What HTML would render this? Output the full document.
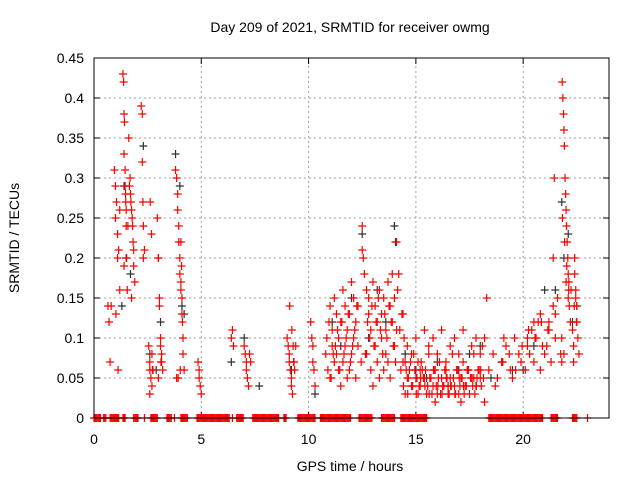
<!DOCTYPE html>
<html><head><meta charset="utf-8"><style>
body{margin:0;background:#fff}
svg{display:block;font-family:"Liberation Sans",sans-serif}
</style></head><body>
<svg id="chart" width="640" height="480" viewBox="0 0 640 480">
<rect width="640" height="480" fill="#fff"/>
<text x="350" y="32" font-size="14" text-anchor="middle">Day 209 of 2021, SRMTID for receiver owmg</text>
<g id="grid"></g><g id="ticks"></g>
<g id="marks"></g>
<rect x="94" y="58" width="515" height="360" fill="none" stroke="#000" stroke-width="1"/>
<text x="350" y="471" font-size="14" text-anchor="middle">GPS time / hours</text>
<text transform="translate(19,238) rotate(-90)" font-size="14" text-anchor="middle">SRMTID / TECUs</text>
</svg>
<script>
const xTicks=[0,5,10,15,20];
const yTicks=[0,0.05,0.1,0.15,0.2,0.25,0.3,0.35,0.4,0.45];
const yLabels=["0","0.05","0.1","0.15","0.2","0.25","0.3","0.35","0.4","0.45"];
const redT=[0.65,0.7,0.75,0.8,0.95,1.0,1.0,1.05,1.1,1.1,1.15,1.2,1.2,1.35,1.38,1.4,1.4,1.42,1.45,1.45,1.48,1.5,1.5,1.52,1.55,1.4,1.65,1.7,1.72,1.75,1.78,1.8,1.82,1.85,1.85,1.9,1.75,2.2,2.25,2.25,2.28,2.3,2.3,2.35,2.55,2.6,2.6,2.65,2.7,2.7,2.75,2.6,2.95,3.0,3.0,3.05,3.05,3.1,3.1,3.15,3.15,3.2,3.0,3.8,3.85,3.9,3.9,3.95,3.95,4.0,4.0,4.05,4.05,4.1,4.1,4.12,4.15,4.15,4.2,3.85,4.05,4.85,4.9,4.9,4.95,5.0,6.4,6.45,6.5,7.0,7.05,7.1,7.1,7.15,7.2,7.25,7.3,9.0,9.05,9.1,9.1,9.15,9.2,9.2,9.25,9.3,9.35,9.4,10.1,10.15,10.2,10.2,10.25,10.3,10.8,10.85,10.9,10.95,11.0,11.0,11.1,11.1,11.2,11.2,11.3,11.3,11.4,11.4,11.5,11.5,11.6,11.6,11.7,11.7,11.8,11.8,11.9,11.9,12.0,12.0,12.1,12.1,12.2,12.2,12.3,12.3,12.45,12.5,12.5,12.55,12.6,12.7,12.7,12.8,12.8,12.9,12.9,13.0,13.0,13.1,13.1,13.2,13.2,13.3,13.3,13.4,13.4,13.5,13.5,13.6,13.6,13.7,13.7,13.8,13.8,13.9,13.9,14.0,14.0,14.05,14.1,14.1,14.2,14.3,14.4,14.5,14.6,14.7,14.8,14.9,15.0,15.1,15.2,15.3,15.4,15.5,15.6,15.7,15.8,15.9,16.0,16.1,16.2,16.3,16.4,16.5,16.6,16.7,16.8,16.9,17.0,17.1,17.2,17.3,17.4,17.5,17.6,17.7,17.8,17.9,18.0,18.1,18.2,14.4,14.6,14.8,15.0,15.2,15.4,15.6,15.8,16.0,16.2,16.4,16.6,16.8,17.0,17.2,17.4,17.6,17.8,18.0,18.2,14.5,15.1,15.9,16.5,17.1,17.7,18.3,18.4,18.6,18.8,19.0,19.2,19.4,19.6,19.8,18.7,19.1,19.5,19.9,20.1,20.2,20.3,20.4,20.5,20.6,20.7,20.8,20.9,21.0,20.2,20.5,20.8,21.1,21.2,21.3,21.4,21.5,21.6,21.2,21.4,21.5,21.75,21.8,21.82,21.85,21.88,21.9,21.92,21.95,21.98,22.0,22.02,22.05,22.08,22.1,22.12,22.15,22.2,21.8,21.9,22.0,22.1,22.3,22.35,22.4,22.4,22.45,22.5,22.5,22.55,22.6,22.35,22.45,
1.02,1.12,1.47,1.58,1.62,1.68,2.62,2.68,2.72,3.12,3.92,4.02,4.08,9.12,9.22,9.28,9.32,11.05,11.15,11.25,11.35,11.45,11.55,11.65,11.75,11.85,11.95,12.05,12.15,12.25,12.65,12.75,12.85,12.95,13.05,13.15,13.25,13.35,13.45,13.55,13.65,13.75,13.85,13.95,14.15,14.25,14.35,14.45,14.55,14.65,14.75,14.85,14.95,15.05,15.15,15.25,15.35,15.45,15.55,15.65,15.75,15.85,15.95,16.05,16.15,16.25,16.35,16.45,16.55,16.65,16.75,16.85,16.95,17.05,17.15,17.25,17.35,17.45,17.55,17.65,17.75,17.85,17.95,18.05,18.15,14.42,14.62,14.82,15.02,15.22,15.42,15.62,15.82,16.02,16.22,16.42,16.62,16.82,17.02,17.22,17.42,17.62,17.82,18.02,19.05,19.35,19.65,19.95,20.25,20.55,20.85,21.15,21.45,21.83,21.93,22.03,22.13,22.23,22.38,22.48,22.58];
const redV=[0.14,0.12,0.07,0.14,0.31,0.29,0.25,0.27,0.23,0.2,0.21,0.26,0.16,0.43,0.42,0.38,0.33,0.37,0.31,0.29,0.27,0.26,0.24,0.2,0.16,0.19,0.29,0.28,0.27,0.26,0.25,0.24,0.22,0.21,0.19,0.17,0.15,0.39,0.38,0.32,0.27,0.24,0.2,0.21,0.09,0.07,0.06,0.05,0.04,0.08,0.06,0.03,0.25,0.2,0.2,0.15,0.14,0.1,0.09,0.08,0.07,0.06,0.05,0.31,0.3,0.28,0.26,0.24,0.22,0.2,0.18,0.17,0.16,0.15,0.13,0.12,0.1,0.08,0.06,0.05,0.22,0.07,0.06,0.05,0.04,0.03,0.1,0.11,0.09,0.09,0.08,0.07,0.06,0.05,0.04,0.08,0.07,0.1,0.09,0.08,0.07,0.06,0.05,0.04,0.03,0.07,0.06,0.09,0.12,0.1,0.09,0.07,0.06,0.04,0.08,0.1,0.06,0.12,0.14,0.05,0.09,0.11,0.07,0.15,0.08,0.13,0.06,0.1,0.04,0.12,0.16,0.07,0.09,0.14,0.05,0.11,0.13,0.06,0.17,0.08,0.15,0.1,0.12,0.05,0.09,0.14,0.07,0.24,0.21,0.2,0.18,0.16,0.08,0.13,0.15,0.06,0.11,0.17,0.04,0.09,0.14,0.07,0.12,0.05,0.16,0.1,0.13,0.06,0.15,0.08,0.11,0.17,0.07,0.14,0.05,0.12,0.18,0.09,0.15,0.07,0.22,0.11,0.18,0.06,0.13,0.07,0.05,0.06,0.04,0.08,0.05,0.07,0.04,0.06,0.05,0.03,0.08,0.05,0.04,0.06,0.03,0.07,0.05,0.04,0.06,0.03,0.05,0.08,0.04,0.06,0.03,0.05,0.07,0.04,0.06,0.03,0.05,0.08,0.04,0.06,0.05,0.09,0.1,0.07,0.09,0.08,0.1,0.06,0.11,0.09,0.1,0.08,0.11,0.07,0.09,0.1,0.08,0.11,0.06,0.09,0.1,0.08,0.02,0.03,0.03,0.02,0.04,0.02,0.05,0.15,0.06,0.08,0.05,0.07,0.09,0.06,0.1,0.08,0.04,0.1,0.05,0.07,0.06,0.09,0.08,0.11,0.07,0.1,0.12,0.06,0.09,0.08,0.1,0.12,0.13,0.09,0.11,0.07,0.14,0.1,0.15,0.12,0.2,0.13,0.08,0.07,0.42,0.4,0.38,0.36,0.34,0.3,0.28,0.26,0.24,0.22,0.2,0.18,0.16,0.14,0.12,0.1,0.08,0.17,0.15,0.11,0.09,0.2,0.18,0.16,0.14,0.12,0.1,0.08,0.07,0.15,0.13,0.06,
0.28,0.24,0.35,0.3,0.27,0.23,0.06,0.07,0.05,0.06,0.19,0.14,0.11,0.09,0.07,0.05,0.08,0.09,0.11,0.06,0.12,0.08,0.1,0.13,0.07,0.09,0.11,0.14,0.08,0.12,0.1,0.14,0.09,0.12,0.15,0.11,0.08,0.13,0.1,0.14,0.12,0.09,0.16,0.11,0.13,0.1,0.06,0.05,0.07,0.04,0.06,0.05,0.04,0.07,0.05,0.06,0.04,0.05,0.03,0.06,0.04,0.05,0.03,0.04,0.06,0.05,0.03,0.04,0.05,0.03,0.06,0.04,0.05,0.03,0.04,0.06,0.05,0.04,0.03,0.05,0.06,0.04,0.05,0.04,0.03,0.04,0.03,0.05,0.04,0.03,0.06,0.04,0.03,0.05,0.04,0.03,0.05,0.04,0.06,0.05,0.04,0.06,0.07,0.08,0.06,0.09,0.11,0.1,0.12,0.11,0.3,0.25,0.22,0.19,0.17,0.16,0.14,0.12];
const blackT=[1.3,1.4,1.5,1.7,2.3,2.6,2.9,3.1,3.8,4.0,4.1,4.2,6.4,7.0,7.7,9.2,10.3,11.1,11.5,12.0,12.5,12.8,13.2,13.6,14.0,14.05,14.5,15.0,15.5,16.0,16.5,17.0,17.5,18.0,18.5,19.0,19.5,20.0,20.5,21.0,21.5,21.8,21.9,22.1,22.3,22.5];
const blackV=[0.14,0.29,0.2,0.18,0.34,0.08,0.06,0.12,0.33,0.29,0.14,0.13,0.07,0.1,0.04,0.06,0.03,0.12,0.09,0.15,0.23,0.1,0.16,0.12,0.24,0.22,0.08,0.06,0.05,0.07,0.04,0.06,0.08,0.09,0.05,0.07,0.06,0.06,0.09,0.16,0.16,0.27,0.2,0.23,0.12,0.14];
const zeroT=[0,0.05,0.1,0.15,0.2,0.25,0.3,0.45,0.5,0.55,0.75,0.8,0.85,0.9,0.95,1.0,1.05,1.1,1.15,1.35,1.4,1.45,1.85,1.9,1.95,2.0,2.05,2.35,2.65,2.7,2.75,2.8,2.85,2.9,2.95,3.4,3.45,3.5,3.55,3.6,3.75,4.05,4.1,4.15,4.2,4.25,4.3,4.35,4.8,4.85,4.9,4.95,5.0,5.05,5.1,5.15,5.2,5.25,5.3,5.35,5.4,5.45,5.5,5.55,5.6,5.65,5.7,5.75,5.8,5.85,5.9,5.95,6.0,6.05,6.1,6.15,6.2,6.25,6.3,6.45,6.65,6.7,6.75,6.8,6.85,6.9,6.95,7.4,7.45,7.5,7.55,7.6,7.65,7.7,7.75,7.8,7.85,7.9,7.95,8.0,8.05,8.1,8.15,8.2,8.25,8.3,8.35,8.4,8.45,8.5,8.55,8.6,8.85,8.9,8.95,9.5,9.55,9.6,9.65,9.7,9.75,9.8,9.85,9.9,9.95,10.0,10.05,10.1,10.15,10.2,10.25,10.3,10.55,10.6,10.65,10.7,10.75,10.8,10.85,10.9,10.95,11.0,11.05,11.1,11.15,11.2,11.25,11.3,11.35,11.4,11.45,11.5,11.55,11.6,11.65,11.7,11.75,11.8,11.85,11.9,11.95,12.35,12.4,12.45,12.5,12.55,12.6,12.65,12.7,12.75,12.8,12.85,12.9,12.95,13.4,13.45,13.5,13.55,13.6,13.65,13.7,13.75,13.8,13.85,13.9,13.95,14.0,14.3,14.35,14.4,14.45,14.5,14.55,14.6,14.65,14.7,14.75,14.8,14.85,14.9,14.95,15.0,15.05,15.1,15.15,15.2,15.25,15.3,15.35,15.4,15.45,15.5,18.4,18.45,18.5,18.55,18.6,18.65,18.7,18.75,18.8,18.85,18.9,18.95,19.0,19.05,19.1,19.15,19.2,19.25,19.3,19.35,19.4,19.45,19.5,19.55,19.6,19.65,19.7,19.75,19.8,19.85,19.9,19.95,20.0,20.05,20.1,20.15,20.2,20.25,20.3,20.35,20.4,20.45,20.5,20.55,20.6,20.65,20.7,20.75,20.8,20.85,20.9,21.3,21.35,21.4,21.45,21.5,21.55,21.6,22.3,22.35,22.4,22.45,22.5,23.0];
const X0=94,X1=609,Y0=418,Y1=58,XMAX=24,YMAX=0.45;
const xs=t=>X0+(X1-X0)*t/XMAX, ys=v=>Y0-(Y0-Y1)*v/YMAX;
const NS="http://www.w3.org/2000/svg";
const grid=document.getElementById('grid'),ticks=document.getElementById('ticks'),marks=document.getElementById('marks');
function mk(tag,attrs,parent){const e=document.createElementNS(NS,tag);for(const k in attrs)e.setAttribute(k,attrs[k]);parent.appendChild(e);return e;}
xTicks.forEach(t=>{const x=xs(t);
 if(t>0){const g=mk('line',{x1:x,x2:x,y1:Y0,y2:Y1,stroke:'#a0a0a0','stroke-dasharray':'2,3'},grid);
 
 }
 mk('line',{x1:x,x2:x,y1:Y0,y2:Y0-6,stroke:'#000'},ticks);mk('line',{x1:x,x2:x,y1:Y1,y2:Y1+6,stroke:'#000'},ticks);
 const l=mk('text',{x:x,y:444,'font-size':14,'text-anchor':'middle'},ticks);l.textContent=t;
 
 });
yTicks.forEach((v,i)=>{const y=ys(v);
 if(v>0&&v<YMAX){const g=mk('line',{x1:X0,x2:X1,y1:y,y2:y,stroke:'#a0a0a0','stroke-dasharray':'2,3'},grid);
 
 }
 mk('line',{x1:X0,x2:X0+6,y1:y,y2:y,stroke:'#000'},ticks);mk('line',{x1:X1,x2:X1-6,y1:y,y2:y,stroke:'#000'},ticks);
 const l=mk('text',{x:84,y:y+5,'font-size':14,'text-anchor':'end'},ticks);l.textContent=yLabels[i];
 
 });
function plus(t,v,c,name){const x=xs(t),y=ys(v);
 const p=mk('path',{d:`M${x-4} ${y}h8M${x} ${y-4}v8`,stroke:c,'stroke-width':1.2,fill:'none'},marks);
 
 }
blackT.forEach((t,i)=>plus(t,blackV[i],'#303030','black-point'));
redT.forEach((t,i)=>plus(t,redV[i],'#ff0000','red-point'));
zeroT.forEach(t=>plus(t,0,'#ff0000','zero-point'));
</script>
</body></html>
